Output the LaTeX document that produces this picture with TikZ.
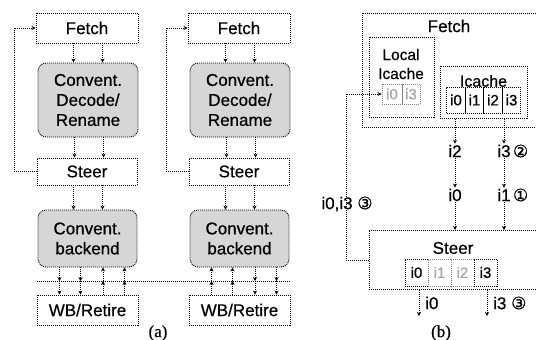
\documentclass[tikz,border=0pt]{standalone}
\usepackage{fontspec}
\setmainfont{Liberation Sans}[FakeBold=0.6]
\newfontfamily\serfont{Liberation Serif}[FakeBold=0.6]
\newfontfamily\cirfont{DejaVu Sans}[FakeBold=0.6]
\usetikzlibrary{arrows.meta,calc}
\newcommand{\cnum}[1]{{\cirfont\fontsize{17}{18}\selectfont #1}}
\begin{document}
\begin{tikzpicture}[x=1pt,y=-1pt,
  dl/.style={line width=0.9pt, dash pattern=on 1pt off 1pt},
  box/.style={draw, dl, inner sep=0pt, font=\fontsize{17}{20}\selectfont},
  gbox/.style={box, rounded corners=8pt, fill=gray!32, align=center},
  cell/.style={draw, dl, inner sep=0pt, font=\fontsize{15}{17}\selectfont},
  gcell/.style={cell, draw=gray, text=gray!70},
  lab/.style={inner sep=1pt, font=\fontsize{17}{20}\selectfont},
  arr/.style={dl, -{Stealth[length=4pt,width=4pt]}},
  captext/.style={inner sep=0pt, font=\serfont\fontsize{17}{20}\selectfont}]
\useasboundingbox (0,0) rectangle (536,340);
\clip (0,0) rectangle (536,340);
% ---------- (a) ----------
\foreach \c/\dx in {A/0, B/152}{
  \node[box, minimum width=102, minimum height=30] (fetch\c) at (87+\dx,28) {Fetch};
  \node[gbox, minimum width=100, minimum height=74] (dec\c) at (88+\dx,100) {Convent.\\Decode/\\Rename};
  \node[box, minimum width=100, minimum height=27] (steer\c) at (87+\dx,171.5) {Steer};
  \node[gbox, minimum width=99, minimum height=57] (back\c) at (87.5+\dx,238.5) {Convent.\\backend};
  \node[box, minimum width=101, minimum height=30] (wb\c) at (87.5+\dx,310) {WB/Retire};
  \draw[arr] ([xshift=-13.5pt]fetch\c.south) -- ([xshift=-13.5pt]fetch\c.south |- dec\c.north);
  \draw[arr] ([xshift=15.5pt]fetch\c.south) -- ([xshift=15.5pt]fetch\c.south |- dec\c.north);
  \draw[arr] ([xshift=-13.5pt]dec\c.south) -- ([xshift=-13.5pt]dec\c.south |- steer\c.north);
  \draw[arr] ([xshift=15.5pt]dec\c.south) -- ([xshift=15.5pt]dec\c.south |- steer\c.north);
  \draw[arr] ([xshift=-13.5pt]steer\c.south) -- ([xshift=-13.5pt]steer\c.south |- back\c.north);
  \draw[arr] ([xshift=15.5pt]steer\c.south) -- ([xshift=15.5pt]steer\c.south |- back\c.north);
  \draw[arr] (steer\c.west) -- ++(-22,0) |- (fetch\c.west);
}
\coordinate (busL) at (37,281);
\coordinate (busR) at (290,281);
\draw[dl] (busL) -- (busR);
% left column: two down, two up
\foreach \s in {-28,-7}{
  \coordinate (t) at ([xshift=\s pt]backA.south);
  \draw[arr] (t) -- (t |- busL);
  \draw[arr] (t |- busL) -- (t |- wbA.north);
}
\foreach \s in {15.5,37}{
  \coordinate (t) at ([xshift=\s pt]backA.south);
  \draw[arr] (t |- wbA.north) -- (t |- busL);
  \draw[arr] (t |- busL) -- (t);
}
% right column: two up, two down
\foreach \s in {-28,-7}{
  \coordinate (t) at ([xshift=\s pt]backB.south);
  \draw[arr] (t |- wbB.north) -- (t |- busL);
  \draw[arr] (t |- busL) -- (t);
}
\foreach \s in {15.5,37}{
  \coordinate (t) at ([xshift=\s pt]backB.south);
  \draw[arr] (t) -- (t |- busL);
  \draw[arr] (t |- busL) -- (t |- wbB.north);
}
\node[captext] (capa) at (158,333) {(a)};
% ---------- (b) ----------
\node[box, anchor=north west, minimum width=200, minimum height=114] (fetchO) at (362,13) {};
\node[lab] (fetchT) at (449,26) {Fetch};
\node[box, anchor=north west, minimum width=65, minimum height=80] (loc) at (369,37) {};
\node[lab, align=center, font=\fontsize{15.5}{19}\selectfont] (locT) at (401,64) {Local\\Icache};
\node[gcell, minimum width=20, minimum height=20] (lc0) at (392,94) {i0};
\node[gcell, minimum width=18, minimum height=20] (lc3) at (411,94) {i3};
\node[box, anchor=north west, minimum width=87, minimum height=52] (ic) at (440,66) {};
\node[lab, font=\fontsize{16}{18}\selectfont] (icT) at (483.5,81) {Icache};
\node[cell, minimum width=18.5, minimum height=26] (c0) at (456,100) {i0};
\node[cell, minimum width=18.5, minimum height=26] (c1) at (474.5,100) {i1};
\node[cell, minimum width=18.5, minimum height=26] (c2) at (493,100) {i2};
\node[cell, minimum width=18.5, minimum height=26] (c3) at (511.5,100) {i3};
\node[box, anchor=north west, minimum width=200, minimum height=59] (steerS) at (369,230) {};
\node[lab] (steerT) at (453,248) {Steer};
\node[cell, minimum width=23, minimum height=27] (s0) at (416.5,272.5) {i0};
\node[gcell, minimum width=23, minimum height=27] (s1) at (439.5,272.5) {i1};
\node[gcell, minimum width=23, minimum height=27] (s2) at (462.5,272.5) {i2};
\node[cell, minimum width=23, minimum height=27] (s3) at (485.5,272.5) {i3};
% middle labels
\node[lab] (m2) at (455,151) {i2};
\node[lab] (m0) at (455,195) {i0};
\node[lab] (m3) at (504,151) {i3};
\node[lab, anchor=west] (m3c) at (m3.east) {\cnum{②}};
\node[lab] (m1) at (504,195) {i1};
\node[lab, anchor=west] (m1c) at (m1.east) {\cnum{①}};
\draw[arr] (m2 |- ic.south) -- (m2.north);
\draw[arr] (m2.south) -- (m0.north);
\draw[arr] (m0.south) -- (m0 |- steerS.north);
\draw[arr] (m3 |- ic.south) -- (m3.north);
\draw[arr] (m3.south) -- (m1.north);
\draw[arr] (m1.south) -- (m1 |- steerS.north);
% loop back to local icache
\draw[arr] (steerS.west) -- ++(-23,0) |- (lc0.west);
\node[lab] (loopL) at (347,204) {i0,i3 \cnum{③}};
% outputs of steer
\coordinate (o0) at (419,316);
\coordinate (o3) at (487,316);
\draw[arr] (o0 |- steerS.south) -- (o0);
\draw[arr] (o3 |- steerS.south) -- (o3);
\node[lab, anchor=west] (out0) at (424,303) {i0};
\node[lab, anchor=west] (out3) at (492,303) {i3 \cnum{③}};
\node[captext] (capb) at (441,333) {(b)};
\end{tikzpicture}
\end{document}
